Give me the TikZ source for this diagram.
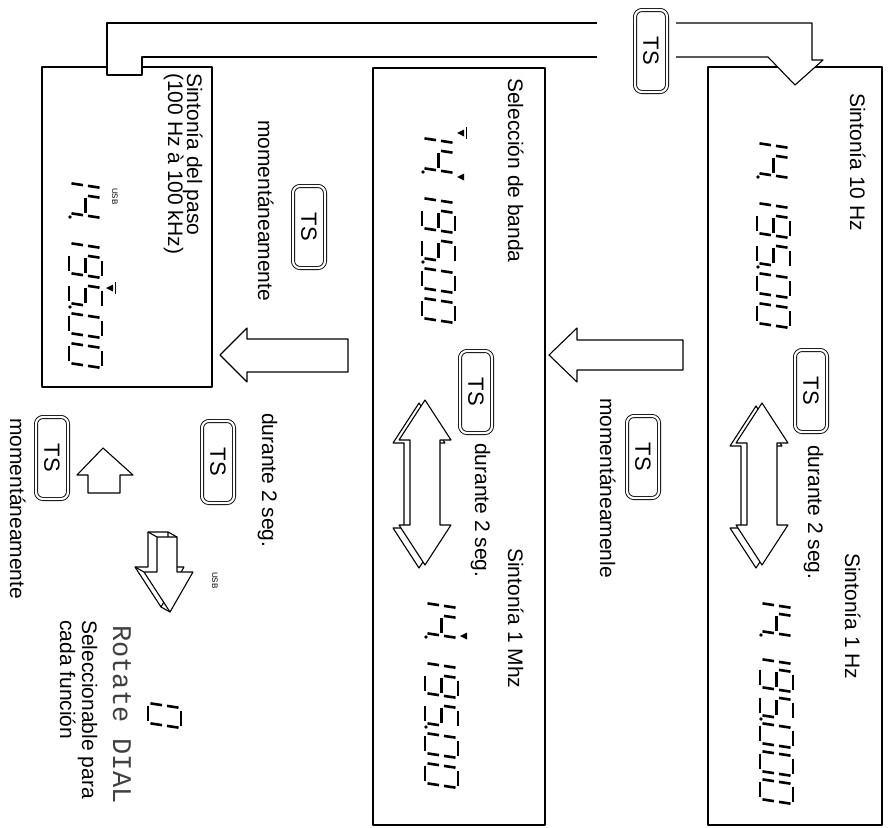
\documentclass[tikz,border=0pt]{standalone}
\usepackage{fontspec}
\setmainfont{Liberation Sans}
\newfontfamily\lcdfont{Liberation Mono}
\usetikzlibrary{calc}
% seven-segment LCD pieces (local reading frame: x along reading, y downward)
\newcommand\segA{\draw[lcdseg] (5,0) -- (25,0);}
\newcommand\segB{\draw[lcdseg] (25,0) -- (22.5,16.5);}
\newcommand\segC{\draw[lcdseg] (22.5,16.5) -- (20,33);}
\newcommand\segD{\draw[lcdseg] (0,33) -- (20,33);}
\newcommand\segE{\draw[lcdseg] (2.5,16.5) -- (0,33);}
\newcommand\segF{\draw[lcdseg] (5,0) -- (2.5,16.5);}
\newcommand\segG{\draw[lcdseg] (2.5,16.5) -- (22.5,16.5);}
\newcommand\segP{\fill (24,32) circle (1.8);}
\newcommand\dOne{\segB\segC}
\newcommand\dFour{\segB\segC\segF\segG}
\newcommand\dNine{\segA\segB\segC\segD\segF\segG}
\newcommand\dFive{\segA\segC\segD\segF\segG}
\newcommand\dZero{\segA\segB\segC\segD\segE\segF}
\newcommand\lcdcell[2]{\begin{scope}[shift={(#1,0)}]#2\end{scope}}
\newcommand\lcddisp[3]{\begin{scope}[shift={(#1,#2)},rotate=-90]#3\end{scope}}
\newcommand\lcdstd{\lcdcell{0}{\dOne}\lcdcell{30}{\dFour\segP}\lcdcell{60}{\dOne}%
  \lcdcell{90}{\dNine}\lcdcell{120}{\dFive\segP}\lcdcell{150}{\dZero}\lcdcell{180}{\dZero}}
\newcommand\lcdlong{\lcdcell{0}{\dOne}\lcdcell{28}{\dFour\segP}\lcdcell{56}{\dOne}%
  \lcdcell{84}{\dNine}\lcdcell{112}{\dFive\segP}\lcdcell{140}{\dZero}\lcdcell{168}{\dZero}\lcdcell{196}{\dZero}}
% 3D double arrow, vertical, centred on x = #1
\newcommand\dblarrow[3]{%
  \begin{scope}[shift={(#1,0)}]
    \draw[hollow, shift={(-6,3)}] (0,#2) -- (26,#2+40) -- (15,#2+40) -- (15,#3-40) -- (26,#3-40) -- (0,#3)
      -- (-26,#3-40) -- (-15,#3-40) -- (-15,#2+40) -- (-26,#2+40) -- cycle;
    \draw[hollow] (0,#2) -- (26,#2+40) -- (15,#2+40) -- (15,#3-40) -- (26,#3-40) -- (0,#3)
      -- (-26,#3-40) -- (-15,#3-40) -- (-15,#2+40) -- (-26,#2+40) -- cycle;
  \end{scope}}
\begin{document}
\begin{tikzpicture}[x=1pt,y=-1pt, line join=round,
  box/.style={draw, line width=1.1pt},
  lbl/.style={rotate=-90, anchor=base west, inner sep=0pt, font=\fontsize{21}{24}\selectfont},
  tsbtn/.style={draw, double, double distance=2.2pt, line width=0.9pt, rounded corners=7pt,
    minimum width=82pt, minimum height=32pt, rotate=-90, inner sep=0pt, fill=white,
    font=\fontsize{22}{22}\selectfont},
  hollow/.style={draw, line width=1.1pt, fill=white},
  lcdseg/.style={line width=2.6pt, shorten <=2.5pt, shorten >=2.5pt},
  cursormark/.style={fill=black}
]
\useasboundingbox (0,0) rectangle (890,827);

% boxes
\draw[box] (708,67) rectangle (882,825);
\draw[box] (373,68) rectangle (545,825);
\draw[box] (42,67) rectangle (212,387);

% top return pipe
\path[hollow] (597,23) -- (107,23) -- (107,75) -- (142,75) -- (142,57) -- (597,57);
\path[hollow] (676,57) -- (768,57) -- (795,85) -- (823,60) -- (812,60) -- (812,23) -- (676,23);
\node[tsbtn] (tstop) at (651,51) {TS};

% box A : Sintonia 10 Hz / 1 Hz
\node[lbl] (ta) at (850,93) {Sintonía 10 Hz};
\lcddisp{790}{123}{\lcdstd}
\node[tsbtn] (tsa) at (811,391) {TS};
\node[lbl] (da) at (808,445) {durante 2 seg.};
\dblarrow{762}{403}{565}
\node[lbl] (ta2) at (845,553) {Sintonía 1 Hz};
\lcddisp{793}{583}{\lcdlong}

% arrow A -> B
\draw[hollow] (549,355) -- (577,328) -- (577,340) -- (683,340) -- (683,370) -- (577,370) -- (577,382) -- cycle;
\node[tsbtn] (tsab) at (643,457) {TS};
\node[lbl] (mab) at (600,398) {momentáneamenle};

% box B : Seleccion de banda / 1 MHz
\node[lbl] (tb) at (508,78) {Selección de banda};
\lcddisp{455}{118}{\lcdstd}
\fill[cursormark] (457,133) -- (464,129.5) -- (464,136.5) -- cycle;
\draw[line width=1pt] (466,127) -- (466,139);
\fill[cursormark] (457,177) -- (464,173.5) -- (464,180.5) -- cycle;
\node[tsbtn] (tsb) at (476,392) {TS};
\node[lbl] (db) at (475,443) {durante 2 seg.};
\dblarrow{425}{400}{565}
\node[lbl] (tb2) at (508,548) {Sintonía 1 Mhz};
\lcddisp{458}{583}{\lcdstd}
\fill[cursormark] (460,636) -- (467,632.5) -- (467,639.5) -- cycle;

% arrow B -> C
\draw[hollow] (220,355) -- (247,328) -- (247,339) -- (348,339) -- (348,372) -- (247,372) -- (247,382) -- cycle;
\node[tsbtn] (tsbc) at (309,227) {TS};
\node[lbl] (mbc) at (258,120) {momentáneamente};

% box C : Sintonia del paso
\node[lbl] (tc) at (187,73) {Sintonía del paso};
\node[lbl] (tc2) at (168,73) {(100 Hz à 100 kHz)};
\node[rotate=-90, anchor=base west, inner sep=0pt, font=\fontsize{8}{8}\selectfont] (usbc) at (112,188) {USB};
\lcddisp{102}{163}{\lcdstd}
\fill[cursormark] (106,288) -- (113,284.5) -- (113,291.5) -- cycle;
\draw[line width=1pt] (115.5,282) -- (115.5,294);

% below C
\node[tsbtn] (tsc) at (218,462) {TS};
\node[lbl] (dc) at (262,413) {durante 2 seg.};
\node[tsbtn] (tsl) at (52,458) {TS};
\node[lbl] (ml) at (10,418) {momentáneamente};
\draw[hollow] (103,448) -- (133,475) -- (120,475) -- (120,493) -- (88,493) -- (88,475) -- (77,475) -- cycle;

% 3D down arrow
\begin{scope}[shift={(-9,-5)}]
  \draw[hollow] (157,537) -- (177,537) -- (177,572) -- (193,572) -- (170,612) -- (144,572) -- (157,572) -- cycle;
\end{scope}
\draw[line width=1.1pt] (157,537) -- (148,532) (177,537) -- (168,532) (144,572) -- (135,567) (170,612) -- (161,607);
\draw[hollow] (157,537) -- (177,537) -- (177,572) -- (193,572) -- (170,612) -- (144,572) -- (157,572) -- cycle;
\node[rotate=-90, anchor=base west, inner sep=0pt, font=\fontsize{8}{8}\selectfont] (usbl) at (212,572) {USB};

% lone LCD digit and Rotate DIAL
\lcddisp{181}{703}{\dZero}
\node[rotate=-90, anchor=base west, inner sep=0pt, text=black!75, font=\lcdfont\fontsize{27}{27}\selectfont] (rot) at (113,625) {Rotate DIAL};
\node[lbl] (sel) at (82,620) {Seleccionable para};
\node[lbl] (cad) at (60,620) {cada función};
\end{tikzpicture}
\end{document}
